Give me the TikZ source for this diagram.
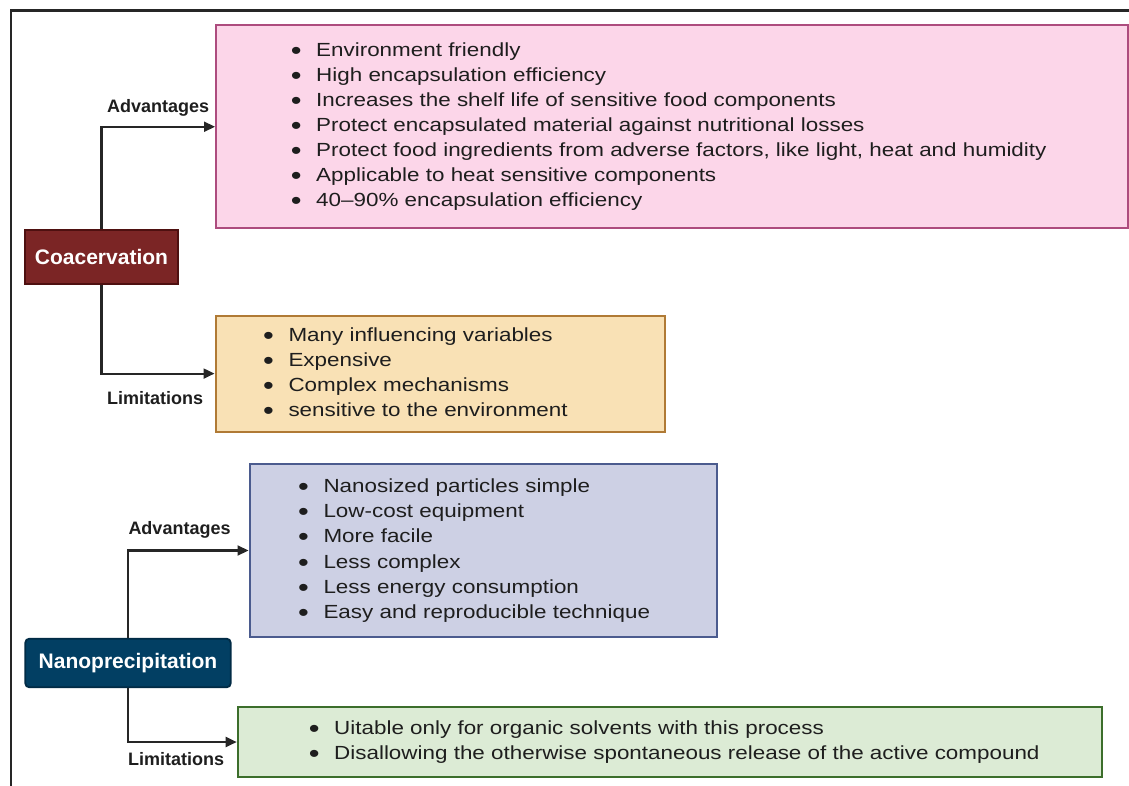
\documentclass[tikz,border=0pt]{standalone}
\usepackage{fontspec}
\setmainfont{Liberation Sans}
\newfontfamily\listfont{Liberation Sans}[FakeStretch=1.18]
\usetikzlibrary{arrows.meta}

\definecolor{inkdark}{HTML}{1E1E1E}
\definecolor{framegray}{HTML}{262626}
\definecolor{pinkfill}{HTML}{FCD6E9}
\definecolor{pinkline}{HTML}{AD4C7E}
\definecolor{orangefill}{HTML}{F9E1B5}
\definecolor{orangeline}{HTML}{B07A35}
\definecolor{bluefill}{HTML}{CDD0E4}
\definecolor{blueline}{HTML}{4B5B8E}
\definecolor{greenfill}{HTML}{DCEBD5}
\definecolor{greenline}{HTML}{3C6E2B}
\definecolor{coacfill}{HTML}{7B2525}
\definecolor{coacline}{HTML}{4E1010}
\definecolor{nanofill}{HTML}{023F63}
\definecolor{nanoline}{HTML}{012B45}

\tikzset{
  panel/.style={draw, line width=2pt, anchor=north west, inner sep=0pt},
  method/.style={draw, line width=1.8pt, inner sep=0pt, text=white,
    font=\bfseries\fontsize{21}{24}\selectfont},
  conn/.style={draw=framegray, line width=2.2pt,
    -{Triangle[length=11pt,width=10pt]}},
  branchlabel/.style={anchor=base west, inner sep=0pt, text=inkdark,
    font=\bfseries\fontsize{18}{21}\selectfont},
  itemtext/.style={anchor=base west, inner sep=0pt, text=inkdark,
    font=\listfont\fontsize{19}{23}\selectfont},
}

% list marker, centred 20pt left of the item text
\newcommand\listmark{\llap{\makebox[40pt]{\fontsize{26}{26}\selectfont\raisebox{-3pt}{\textbullet}}}}

% #1 name prefix, #2 text x, #3 first baseline, #4 line step, #5 items
\newcommand\drawitems[5]{%
  \foreach \txt [count=\k] in {#5} {
    \node[itemtext] (#1t\k) at ({#2},{#3+#4*(\k-1)}) {\listmark\txt};
  }%
}

\begin{document}
\begin{tikzpicture}[x=1pt,y=-1pt]
\useasboundingbox (0,0) rectangle (1129,786);

% outer frame (left and top edges)
\draw[framegray, line width=2.4pt] (11,790) -- (11,10.7) -- (1132,10.7);

% method boxes
\node[method, fill=coacfill, draw=coacline, minimum width=152.4pt,
  minimum height=54.3pt] (coac) at (101.5,257.2) {Coacervation};
\node[method, fill=nanofill, draw=nanoline, rounded corners=4pt,
  minimum width=205.4pt, minimum height=48.6pt] (nano) at (128,663) {Nanoprecipitation};

% list panels
\node[panel, fill=pinkfill, draw=pinkline, minimum width=912pt,
  minimum height=203.5pt] (coacadv) at (215,24) {};
\node[panel, fill=orangefill, draw=orangeline, minimum width=449.5pt,
  minimum height=116.2pt] (coaclim) at (214.5,314.5) {};
\node[panel, fill=bluefill, draw=blueline, minimum width=467.5pt,
  minimum height=173pt] (nanoadv) at (248.5,463) {};
\node[panel, fill=greenfill, draw=greenline, minimum width=864.3pt,
  minimum height=70pt] (nanolim) at (236.7,706) {};

% connectors
\draw[conn] (coac.north) |- (coacadv.west);
\draw[conn] (coac.south) |- (coaclim.west);
\draw[conn] (nano.north) |- (nanoadv.west);
\draw[conn] (nano.south) |- (nanolim.west);

% branch labels
\node[branchlabel] (lca) at (107,113) {Advantages};
\node[branchlabel] (lcl) at (107,404.3) {Limitations};
\node[branchlabel] (lna) at (128.3,534.3) {Advantages};
\node[branchlabel] (lnl) at (128,765) {Limitations};

% list contents
\drawitems{ca}{316}{56.5}{25.05}{
  Environment friendly,
  High encapsulation efficiency,
  Increases the shelf life of sensitive food components,
  Protect encapsulated material against nutritional losses,
  {Protect food ingredients from adverse factors, like light, heat and humidity},
  Applicable to heat sensitive components,
  40–90\% encapsulation efficiency}
\drawitems{cl}{288.3}{341.7}{25}{
  Many influencing variables,
  Expensive,
  Complex mechanisms,
  sensitive to the environment}
\drawitems{na}{323.3}{492.3}{25.3}{
  Nanosized particles simple,
  Low-cost equipment,
  More facile,
  Less complex,
  Less energy consumption,
  Easy and reproducible technique}
\drawitems{nl}{334}{734.3}{24.7}{
  Uitable only for organic solvents with this process,
  Disallowing the otherwise spontaneous release of the active compound}
\end{tikzpicture}
\end{document}
